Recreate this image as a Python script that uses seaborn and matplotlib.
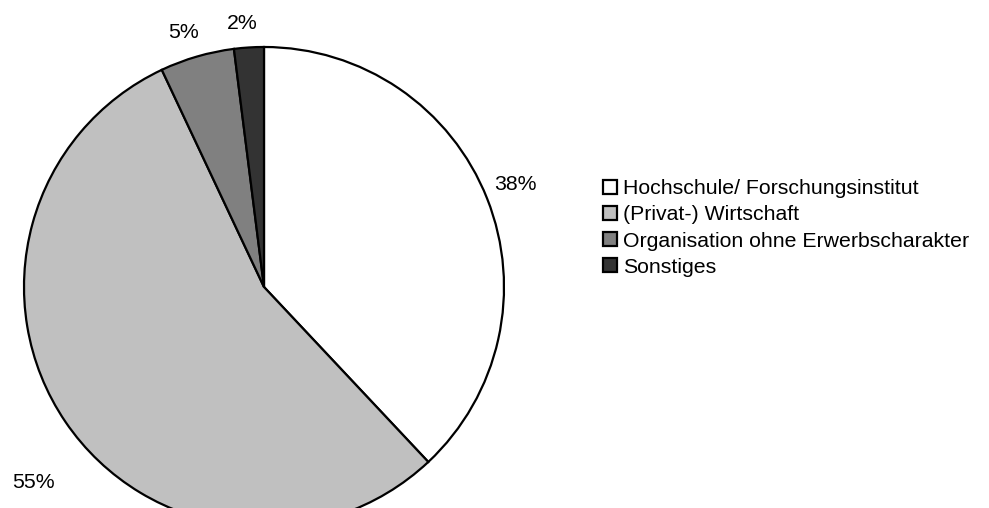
import numpy as np
import matplotlib.pyplot as plt
import seaborn as sns

# Data
categories = ["Hochschule/ Forschungsinstitut", "(Privat-) Wirtschaft",
              "Organisation ohne Erwerbscharakter", "Sonstiges"]
shares = [38, 55, 5, 2]
colors = ["#FFFFFF", "#C0C0C0", "#808080", "#333333"]
# label placement (distance in radii, angle offset in degrees)
label_dist = [1.13, 1.26, 1.11, 1.10]
label_shift = [0.5, 6.0, 1.3, 1.2]

sns.set_style("white")
plt.rcParams['font.family'] = ['Liberation Sans', 'DejaVu Sans']
plt.rcParams['text.color'] = 'black'

fig = plt.figure(figsize=(9.89, 5.08), dpi=100)
W, H = 989, 508
# pie axes: radius 240 px, centre at (264, 287) from top
ax = fig.add_axes([24 / W, (H - 287 - 240) / H, 480 / W, 480 / H])

wedges, texts, autotexts = ax.pie(
    shares, colors=colors, startangle=90, counterclock=False,
    autopct='%1.0f%%', pctdistance=1.13,
    wedgeprops=dict(edgecolor='black', linewidth=1.6),
    textprops=dict(fontsize=15.3, color='black'))

for w, t, d, s in zip(wedges, autotexts, label_dist, label_shift):
    ang = np.deg2rad((w.theta1 + w.theta2) / 2 + s)
    t.set_position((d * np.cos(ang), d * np.sin(ang)))

ax.set_xlim(-1, 1)
ax.set_ylim(-1, 1)
ax.set_aspect('equal')
ax.axis('off')

fig.legend(wedges, categories, loc='center left',
           bbox_to_anchor=(603 / W, 1 - 228 / H), frameon=False,
           fontsize=15.3, labelcolor='black', borderpad=0, borderaxespad=0,
           handlelength=0.65, handleheight=0.65, handletextpad=0.3,
           labelspacing=0.33)

fig.savefig("out.png", dpi=100)
